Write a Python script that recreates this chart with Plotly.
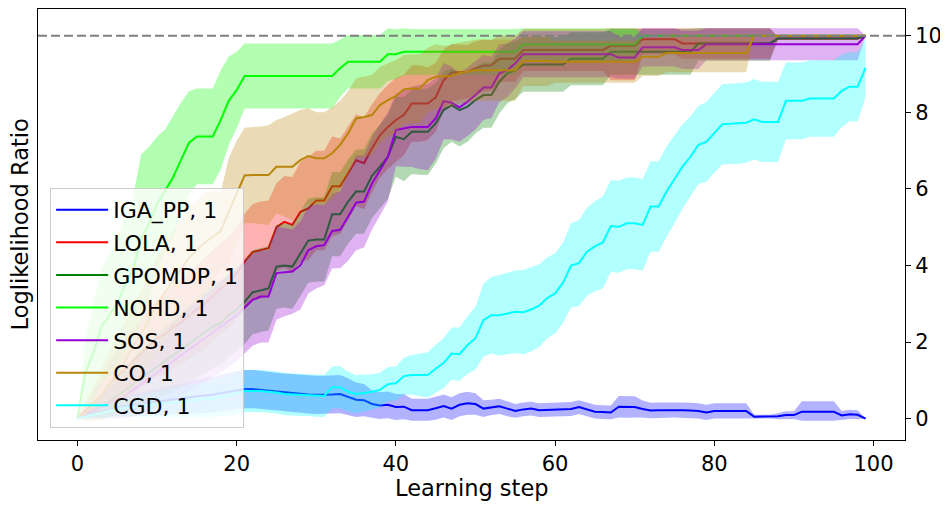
import plotly.graph_objects as go

STEPS = list(range(100))

SERIES = ["IGA_PP, 1", "LOLA, 1", "GPOMDP, 1", "NOHD, 1", "SOS, 1", "CO, 1", "CGD, 1"]
COLORS = ["#0000ff", "#ff0000", "#008000", "#00ff00", "#9400d3", "#b8860b", "#00ffff"]

IGA_PP_MEAN = [
    0.00, 0.10, 0.15, 0.20, 0.27, 0.30, 0.33, 0.36, 0.38, 0.40,
    0.43, 0.46, 0.49, 0.52, 0.55, 0.58, 0.60, 0.62, 0.66, 0.70,
    0.75, 0.77, 0.77, 0.75, 0.72, 0.70, 0.68, 0.66, 0.65, 0.63,
    0.62, 0.62, 0.63, 0.64, 0.57, 0.49, 0.48, 0.38, 0.34, 0.36,
    0.30, 0.31, 0.22, 0.22, 0.22, 0.27, 0.33, 0.26, 0.36, 0.40,
    0.38, 0.26, 0.29, 0.32, 0.26, 0.20, 0.24, 0.26, 0.22, 0.23,
    0.24, 0.24, 0.25, 0.30, 0.24, 0.18, 0.17, 0.16, 0.31, 0.30,
    0.30, 0.25, 0.21, 0.22, 0.22, 0.23, 0.22, 0.21, 0.20, 0.16,
    0.20, 0.20, 0.20, 0.20, 0.20, 0.05, 0.05, 0.05, 0.06, 0.09,
    0.09, 0.18, 0.18, 0.18, 0.18, 0.18, 0.08, 0.11, 0.10, 0.00,
]
IGA_PP_STD = [
    0.00, 0.08, 0.12, 0.16, 0.20, 0.23, 0.26, 0.29, 0.31, 0.33,
    0.35, 0.37, 0.39, 0.41, 0.43, 0.45, 0.46, 0.47, 0.48, 0.49,
    0.50, 0.50, 0.50, 0.50, 0.50, 0.50, 0.50, 0.50, 0.50, 0.50,
    0.50, 0.50, 0.50, 0.50, 0.48, 0.45, 0.42, 0.36, 0.35, 0.35,
    0.34, 0.33, 0.30, 0.30, 0.30, 0.30, 0.30, 0.30, 0.30, 0.30,
    0.28, 0.22, 0.20, 0.20, 0.20, 0.18, 0.18, 0.18, 0.18, 0.18,
    0.18, 0.18, 0.18, 0.18, 0.18, 0.18, 0.18, 0.18, 0.28, 0.28,
    0.28, 0.22, 0.20, 0.20, 0.20, 0.20, 0.20, 0.20, 0.20, 0.20,
    0.20, 0.20, 0.20, 0.20, 0.20, 0.05, 0.05, 0.05, 0.08, 0.10,
    0.10, 0.27, 0.27, 0.27, 0.27, 0.27, 0.12, 0.12, 0.12, 0.00,
]

LOLA_MEAN = [
    0.00, 0.20, 0.40, 0.60, 0.90, 1.10, 1.30, 1.50, 1.70, 1.90,
    2.10, 2.20, 2.40, 2.50, 2.70, 2.85, 3.00, 3.20, 3.40, 3.55,
    3.80, 4.10, 4.35, 4.40, 4.45, 5.00, 5.14, 5.06, 5.40, 5.49,
    5.70, 5.70, 6.07, 6.07, 6.40, 6.75, 6.67, 7.06, 7.40, 7.62,
    7.80, 7.93, 8.23, 8.23, 8.23, 8.39, 8.84, 9.04, 9.05, 9.06,
    9.15, 9.22, 9.23, 9.40, 9.40, 9.40, 9.63, 9.63, 9.63, 9.63,
    9.63, 9.63, 9.63, 9.63, 9.63, 9.63, 9.63, 9.74, 9.74, 9.74,
    9.74, 9.91, 9.91, 9.91, 9.91, 9.91, 9.80, 9.80, 9.80, 9.80,
    9.80, 9.80, 9.80, 9.80, 9.80, 9.80, 9.80, 9.80, 9.93, 9.93,
    9.93, 9.93, 9.93, 9.93, 9.93, 9.93, 9.93, 9.93, 9.93, 10.00,
]
LOLA_STD = [
    0.00, 0.15, 0.30, 0.45, 0.60, 0.70, 0.80, 0.85, 0.90, 0.95,
    1.00, 1.05, 1.10, 1.10, 1.15, 1.15, 1.20, 1.20, 1.20, 1.20,
    1.20, 1.25, 1.25, 1.27, 1.25, 1.15, 1.20, 1.25, 1.30, 1.35,
    1.30, 1.30, 1.30, 1.25, 1.22, 1.20, 1.20, 1.15, 1.10, 1.10,
    1.10, 1.05, 1.00, 1.00, 0.95, 0.90, 0.80, 0.75, 0.72, 0.70,
    0.70, 0.68, 0.66, 0.62, 0.60, 0.60, 0.55, 0.55, 0.55, 0.55,
    0.55, 0.55, 0.55, 0.55, 0.55, 0.55, 0.55, 0.90, 0.90, 0.90,
    0.90, 0.40, 0.40, 0.40, 0.40, 0.40, 0.40, 0.40, 0.40, 0.40,
    0.40, 0.40, 0.40, 0.40, 0.40, 0.40, 0.40, 0.40, 0.03, 0.03,
    0.03, 0.03, 0.03, 0.03, 0.03, 0.03, 0.03, 0.03, 0.03, 0.00,
]

GPOMDP_MEAN = [
    0.00, 0.10, 0.20, 0.30, 0.45, 0.60, 0.75, 0.90, 1.05, 1.20,
    1.35, 1.50, 1.65, 1.80, 1.95, 2.10, 2.25, 2.40, 2.50, 2.70,
    2.85, 3.05, 3.30, 3.36, 3.40, 3.97, 4.00, 3.97, 4.30, 4.65,
    4.68, 4.68, 5.34, 5.34, 5.67, 5.93, 5.93, 6.34, 6.58, 6.84,
    7.36, 7.30, 7.49, 7.49, 7.49, 7.71, 8.06, 8.19, 8.06, 8.15,
    8.32, 8.45, 8.45, 8.80, 9.02, 9.10, 9.25, 9.25, 9.25, 9.25,
    9.25, 9.25, 9.40, 9.40, 9.40, 9.40, 9.40, 9.58, 9.58, 9.58,
    9.58, 9.58, 9.58, 9.58, 9.58, 9.58, 9.58, 9.58, 9.80, 9.80,
    9.80, 9.80, 9.80, 9.80, 9.80, 9.80, 9.80, 9.80, 9.93, 9.93,
    9.93, 9.93, 9.93, 9.93, 9.93, 9.93, 9.93, 9.93, 9.93, 10.00,
]
GPOMDP_STD = [
    0.00, 0.10, 0.20, 0.30, 0.40, 0.50, 0.60, 0.70, 0.75, 0.80,
    0.85, 0.90, 0.95, 1.00, 1.00, 1.05, 1.05, 1.10, 1.10, 1.10,
    1.10, 1.10, 1.10, 1.10, 1.10, 1.10, 1.10, 1.10, 1.10, 1.10,
    1.10, 1.10, 1.10, 1.10, 1.10, 1.10, 1.10, 1.10, 1.10, 1.10,
    1.04, 1.10, 1.10, 1.12, 1.13, 1.05, 1.00, 0.96, 0.95, 0.92,
    0.87, 0.85, 0.85, 0.83, 0.78, 0.75, 0.71, 0.71, 0.71, 0.71,
    0.71, 0.71, 0.69, 0.69, 0.69, 0.69, 0.69, 0.60, 0.60, 0.60,
    0.60, 0.60, 0.60, 0.60, 0.60, 0.60, 0.60, 0.60, 0.45, 0.45,
    0.45, 0.45, 0.45, 0.45, 0.45, 0.45, 0.45, 0.45, 0.03, 0.03,
    0.03, 0.03, 0.03, 0.03, 0.03, 0.03, 0.03, 0.03, 0.03, 0.00,
]

NOHD_MEAN = [
    0.00, 1.20, 1.70, 2.40, 2.70, 3.00, 3.50, 3.90, 4.70, 5.10,
    5.60, 5.95, 6.30, 6.75, 7.20, 7.37, 7.37, 7.37, 7.80, 8.30,
    8.58, 8.95, 8.95, 8.95, 8.95, 8.95, 8.95, 8.95, 8.95, 8.95,
    8.95, 8.95, 8.95, 9.15, 9.32, 9.32, 9.32, 9.32, 9.32, 9.52,
    9.52, 9.58, 9.58, 9.58, 9.58, 9.58, 9.58, 9.58, 9.58, 9.58,
    9.58, 9.58, 9.58, 9.58, 9.58, 9.58, 9.77, 9.77, 9.77, 9.77,
    9.77, 9.77, 9.77, 9.77, 9.77, 9.77, 9.77, 9.77, 9.77, 9.77,
    9.77, 10.00, 10.00, 10.00, 10.00, 10.00, 10.00, 10.00, 10.00, 10.00,
    10.00, 10.00, 10.00, 10.00, 10.00, 10.00, 10.00, 10.00, 10.00, 10.00,
    10.00, 10.00, 10.00, 10.00, 10.00, 10.00, 10.00, 10.00, 10.00, 10.00,
]
NOHD_STD = [
    0.00, 0.90, 1.30, 1.50, 1.60, 1.70, 1.80, 1.90, 2.20, 2.00,
    1.76, 1.60, 1.60, 1.50, 1.35, 1.25, 1.25, 1.25, 1.30, 1.15,
    1.00, 0.85, 0.85, 0.85, 0.85, 0.85, 0.85, 0.85, 0.85, 0.85,
    0.85, 0.85, 0.85, 0.75, 0.70, 0.70, 0.70, 0.70, 0.70, 0.70,
    0.65, 0.62, 0.60, 0.60, 0.60, 0.60, 0.60, 0.60, 0.60, 0.60,
    0.60, 0.60, 0.60, 0.60, 0.60, 0.60, 0.45, 0.45, 0.45, 0.45,
    0.45, 0.45, 0.45, 0.45, 0.45, 0.45, 0.45, 0.45, 0.45, 0.45,
    0.45, 0.03, 0.03, 0.03, 0.03, 0.03, 0.03, 0.03, 0.03, 0.03,
    0.03, 0.03, 0.03, 0.03, 0.03, 0.03, 0.03, 0.03, 0.03, 0.03,
    0.03, 0.03, 0.03, 0.03, 0.03, 0.03, 0.03, 0.03, 0.03, 0.00,
]

SOS_MEAN = [
    0.00, 0.10, 0.20, 0.30, 0.40, 0.50, 0.60, 0.75, 0.90, 1.05,
    1.20, 1.35, 1.50, 1.65, 1.80, 1.95, 2.10, 2.25, 2.40, 2.55,
    2.70, 2.90, 3.10, 3.19, 3.19, 3.80, 3.82, 3.84, 4.00, 4.40,
    4.50, 4.53, 4.90, 4.93, 5.27, 5.64, 5.67, 6.14, 6.49, 6.84,
    7.54, 7.58, 7.62, 7.62, 7.62, 7.84, 8.29, 8.25, 8.13, 8.28,
    8.45, 8.65, 8.65, 9.02, 9.10, 9.28, 9.52, 9.52, 9.52, 9.52,
    9.52, 9.52, 9.52, 9.52, 9.52, 9.52, 9.52, 9.52, 9.43, 9.43,
    9.43, 9.70, 9.70, 9.70, 9.70, 9.70, 9.63, 9.63, 9.63, 9.78,
    9.78, 9.78, 9.78, 9.78, 9.78, 9.78, 9.78, 9.78, 9.78, 9.78,
    9.78, 9.78, 9.78, 9.78, 9.78, 9.78, 9.78, 9.78, 9.78, 10.00,
]
SOS_STD = [
    0.00, 0.10, 0.20, 0.30, 0.40, 0.50, 0.60, 0.70, 0.80, 0.85,
    0.90, 0.95, 1.00, 1.05, 1.10, 1.10, 1.15, 1.15, 1.20, 1.20,
    1.20, 1.20, 1.20, 1.20, 1.20, 1.22, 1.15, 1.10, 1.15, 1.13,
    1.10, 1.05, 0.97, 1.00, 1.15, 1.24, 1.20, 1.20, 1.19, 1.17,
    0.95, 1.00, 1.05, 1.10, 1.13, 1.05, 1.00, 0.95, 0.90, 0.90,
    0.90, 0.85, 0.80, 0.75, 0.70, 0.65, 0.60, 0.60, 0.60, 0.60,
    0.60, 0.60, 0.60, 0.60, 0.60, 0.60, 0.60, 0.60, 0.55, 0.55,
    0.55, 0.50, 0.50, 0.50, 0.50, 0.50, 0.50, 0.50, 0.50, 0.42,
    0.42, 0.42, 0.42, 0.42, 0.42, 0.42, 0.42, 0.42, 0.42, 0.42,
    0.42, 0.42, 0.42, 0.42, 0.42, 0.42, 0.42, 0.42, 0.42, 0.00,
]

CO_MEAN = [
    0.00, 0.15, 0.35, 0.60, 0.90, 1.20, 1.50, 1.90, 2.20, 2.60,
    3.00, 3.30, 3.60, 3.90, 4.20, 4.40, 4.60, 4.75, 4.90, 5.40,
    5.90, 6.35, 6.36, 6.36, 6.36, 6.58, 6.58, 6.58, 6.75, 6.86,
    6.80, 6.80, 6.93, 7.15, 7.45, 7.84, 7.88, 7.93, 8.19, 8.32,
    8.42, 8.60, 8.62, 8.62, 8.84, 8.93, 8.94, 8.95, 9.03, 9.06,
    9.10, 9.10, 9.10, 9.10, 9.10, 9.10, 9.34, 9.34, 9.34, 9.34,
    9.32, 9.32, 9.32, 9.32, 9.32, 9.32, 9.32, 9.32, 9.32, 9.32,
    9.32, 9.45, 9.45, 9.45, 9.55, 9.55, 9.55, 9.55, 9.55, 9.55,
    9.55, 9.55, 9.55, 9.55, 9.55, 10.00, 10.00, 10.00, 10.00, 10.00,
    10.00, 10.00, 10.00, 10.00, 10.00, 10.00, 10.00, 10.00, 10.00, 10.00,
]
CO_STD = [
    0.00, 0.30, 0.50, 0.70, 0.85, 0.95, 1.05, 1.10, 1.15, 1.20,
    1.25, 1.25, 1.30, 1.30, 1.30, 1.30, 1.30, 1.20, 1.00, 1.40,
    1.35, 1.25, 1.25, 1.27, 1.30, 1.22, 1.30, 1.40, 1.31, 1.25,
    1.20, 1.20, 1.20, 1.15, 1.10, 1.05, 1.05, 1.05, 1.00, 0.95,
    0.95, 0.90, 0.90, 0.90, 0.85, 0.85, 0.80, 0.80, 0.80, 0.80,
    0.80, 0.80, 0.80, 0.80, 0.80, 0.80, 0.65, 0.65, 0.65, 0.65,
    0.55, 0.55, 0.55, 0.55, 0.55, 0.55, 0.55, 0.55, 0.55, 0.55,
    0.55, 0.50, 0.50, 0.50, 0.50, 0.50, 0.50, 0.50, 0.50, 0.50,
    0.50, 0.50, 0.50, 0.50, 0.50, 0.00, 0.00, 0.00, 0.00, 0.00,
    0.00, 0.00, 0.00, 0.00, 0.00, 0.00, 0.00, 0.00, 0.00, 0.00,
]

CGD_MEAN = [
    0.00, 0.05, 0.10, 0.15, 0.20, 0.25, 0.28, 0.30, 0.33, 0.35,
    0.38, 0.40, 0.42, 0.44, 0.46, 0.48, 0.50, 0.52, 0.55, 0.60,
    0.65, 0.72, 0.72, 0.72, 0.70, 0.68, 0.64, 0.63, 0.62, 0.62,
    0.60, 0.59, 0.82, 0.82, 0.70, 0.64, 0.67, 0.70, 0.75, 0.90,
    0.92, 1.11, 1.14, 1.14, 1.14, 1.30, 1.45, 1.70, 1.68, 1.92,
    2.10, 2.57, 2.70, 2.70, 2.75, 2.79, 2.78, 2.85, 2.95, 3.15,
    3.27, 3.55, 4.00, 4.06, 4.36, 4.50, 4.60, 5.03, 5.01, 5.10,
    5.10, 5.06, 5.54, 5.54, 5.93, 6.25, 6.58, 6.84, 7.15, 7.23,
    7.47, 7.69, 7.70, 7.71, 7.73, 7.82, 7.75, 7.75, 7.75, 8.30,
    8.30, 8.30, 8.36, 8.36, 8.36, 8.36, 8.56, 8.67, 8.67, 9.16,
]
CGD_STD = [
    0.00, 0.05, 0.10, 0.15, 0.18, 0.21, 0.24, 0.27, 0.30, 0.32,
    0.34, 0.36, 0.38, 0.40, 0.42, 0.44, 0.46, 0.48, 0.50, 0.52,
    0.55, 0.55, 0.55, 0.55, 0.55, 0.55, 0.55, 0.55, 0.55, 0.55,
    0.55, 0.55, 0.55, 0.55, 0.52, 0.50, 0.48, 0.46, 0.45, 0.45,
    0.44, 0.48, 0.52, 0.56, 0.59, 0.62, 0.65, 0.68, 0.70, 0.75,
    0.82, 0.95, 1.00, 1.05, 1.07, 1.08, 1.10, 1.10, 1.08, 1.06,
    1.05, 1.05, 1.10, 1.12, 1.15, 1.18, 1.20, 1.20, 1.20, 1.20,
    1.20, 1.20, 1.18, 1.18, 1.18, 1.15, 1.10, 1.05, 1.02, 1.04,
    1.05, 1.05, 1.05, 1.05, 1.05, 1.05, 1.05, 1.05, 1.05, 1.00,
    1.00, 1.00, 1.00, 1.00, 1.00, 1.00, 0.95, 0.90, 0.90, 0.75,
]

MEANS = [IGA_PP_MEAN, LOLA_MEAN, GPOMDP_MEAN, NOHD_MEAN, SOS_MEAN, CO_MEAN, CGD_MEAN]
STDS = [IGA_PP_STD, LOLA_STD, GPOMDP_STD, NOHD_STD, SOS_STD, CO_STD, CGD_STD]

BAND_MAX = 10.2
BAND_MIN = -0.06
TARGET = 10
X_TICKS = [0, 20, 40, 60, 80, 100]
Y_TICKS = [0, 2, 4, 6, 8, 10]

FONT = "DejaVu Sans"


def rgba(hex_color, alpha):
    h = hex_color.lstrip("#")
    r, g, b = int(h[0:2], 16), int(h[2:4], 16), int(h[4:6], 16)
    return f"rgba({r},{g},{b},{alpha})"


fig = go.Figure()
for name, color, mean, std in zip(SERIES, COLORS, MEANS, STDS):
    upper = [min(m + s, BAND_MAX) for m, s in zip(mean, std)]
    lower = [max(m - s, BAND_MIN) for m, s in zip(mean, std)]
    fig.add_trace(go.Scatter(
        x=STEPS + STEPS[::-1], y=upper + lower[::-1],
        fill="toself", fillcolor=rgba(color, 0.3),
        line=dict(width=0), mode="lines", showlegend=False, hoverinfo="skip",
        legendgroup=name,
    ))
    fig.add_trace(go.Scatter(
        x=STEPS, y=mean, mode="lines", name=name, legendgroup=name,
        line=dict(color=color, width=2),
    ))

fig.add_shape(type="line", xref="paper", x0=0, x1=1, yref="y", y0=TARGET, y1=TARGET,
              line=dict(color="#808080", width=2, dash="9px,4px"), layer="above")

# the page body adds an 8px offset, so the figure is 940x499 with margins set to
# place the plotting area where the reference has it
fig.update_layout(
    width=940, height=499,
    margin=dict(l=30, r=43, t=1, b=67, pad=0),
    paper_bgcolor="white", plot_bgcolor="white",
    font=dict(family=FONT, size=21, color="black"),
    showlegend=True,
    legend=dict(
        x=0.014, y=0.028, xanchor="left", yanchor="bottom",
        bgcolor="rgba(255,255,255,0.8)", bordercolor="#cccccc", borderwidth=1,
        font=dict(family=FONT, size=22, color="black"),
        itemwidth=52, tracegroupgap=1,
    ),
    xaxis=dict(
        range=[-4.95, 103.95], tickvals=X_TICKS, ticks="outside", ticklen=5,
        tickwidth=1, tickcolor="black", showline=True, linecolor="black",
        linewidth=1, mirror=True, showgrid=False, zeroline=False,
        tickfont=dict(family=FONT, size=21),
    ),
    yaxis=dict(
        range=[-0.56, 10.70], tickvals=Y_TICKS, side="right", ticks="outside",
        ticklen=5, tickwidth=1, tickcolor="black", showline=True,
        linecolor="black", linewidth=1, mirror=True, showgrid=False,
        zeroline=False, tickfont=dict(family=FONT, size=21),
    ),
    annotations=[
        dict(text="Learning step", xref="paper", yref="paper", x=0.5, y=-0.111,
             xanchor="center", yanchor="middle", showarrow=False,
             font=dict(family=FONT, size=22.5)),
        dict(text="Loglikelihood Ratio", xref="paper", yref="paper", x=-0.0208,
             y=0.5, xanchor="center", yanchor="middle", textangle=-90,
             showarrow=False, font=dict(family=FONT, size=22.5)),
    ],
)

fig.write_html("out.html")
